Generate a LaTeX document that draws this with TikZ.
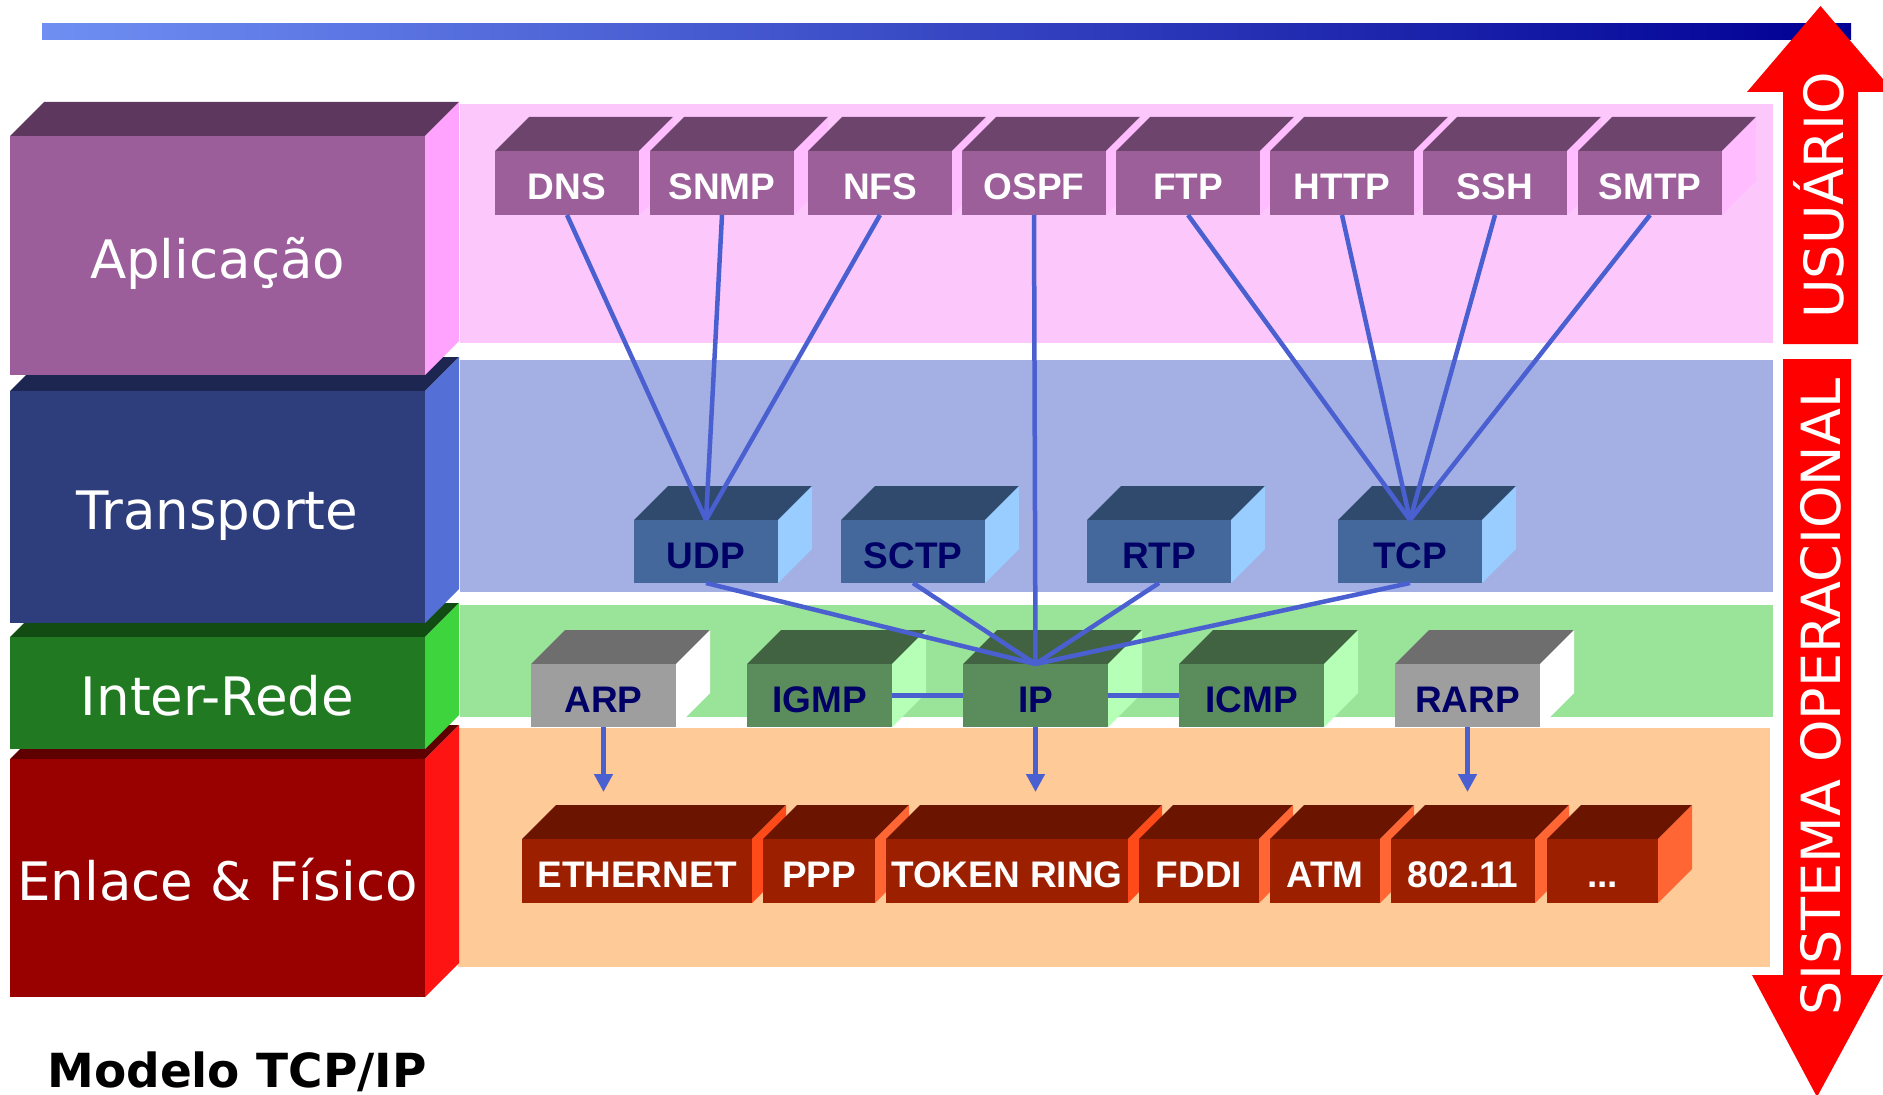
\documentclass[tikz,border=0pt]{standalone}
\usepackage{fontspec}
\setmainfont{DejaVu Sans}
\newfontfamily\tagfont{Liberation Sans}
\usetikzlibrary{arrows.meta,calc}

% panel and block colours
\definecolor{barL}{HTML}{6F8FF3}
\definecolor{barR}{HTML}{000094}
\definecolor{panelApp}{HTML}{FCC8FC}
\definecolor{panelTr}{HTML}{A4AFE3}
\definecolor{panelNet}{HTML}{9AE49A}
\definecolor{panelLnk}{HTML}{FECA98}
\definecolor{wireblue}{HTML}{4A60D0}
\definecolor{navy}{HTML}{000066}

% draws a box as front face (named node) plus top and right faces
% #1 name, #2 colour scheme, #3 left, #4 top, #5 width, #6 height, #7 label
\newcommand\layerbox[7]{%
  \fill[#2top] (#3,#4) -- ++(34,-34) -- ++(#5,0) -- ++(-34,34) -- cycle;
  \fill[#2side] (#3+#5,#4) -- ++(34,-34) -- ++(0,#6) -- ++(-34,34) -- cycle;
  \node[#2front, minimum width={#5*0.02cm}, minimum height={#6*0.02cm}]
    (#1) at (#3+#5/2,#4+#6/2) {#7};
}

\begin{document}
\begin{tikzpicture}[x=0.02cm,y=-0.02cm,
  face/.style={inner sep=0pt, outer sep=0pt, text depth=0pt},
  layer/.style={face, text=white, font=\fontsize{30.16pt}{36pt}\selectfont, text height=26pt},
  tag/.style={face, font=\tagfont\bfseries\fontsize{21.05pt}{25pt}\selectfont, text height=19pt},
  % left layer blocks
  Lapptop/.style={fill={rgb,255:red,94;green,55;blue,94}},
  Lappside/.style={fill={rgb,255:red,255;green,163;blue,255}},
  Lappfront/.style={layer, fill={rgb,255:red,155;green,94;blue,154}},
  Ltrtop/.style={fill={rgb,255:red,29;green,38;blue,81}},
  Ltrside/.style={fill={rgb,255:red,84;green,112;blue,214}},
  Ltrfront/.style={layer, fill={rgb,255:red,46;green,61;blue,124}},
  Lnettop/.style={fill={rgb,255:red,18;green,76;blue,18}},
  Lnetside/.style={fill={rgb,255:red,61;green,212;blue,61}},
  Lnetfront/.style={layer, fill={rgb,255:red,33;green,122;blue,33}},
  Llnktop/.style={fill={rgb,255:red,94;green,0;blue,0}},
  Llnkside/.style={fill={rgb,255:red,255;green,20;blue,20}},
  Llnkfront/.style={layer, fill={rgb,255:red,153;green,0;blue,0}},
  % protocol boxes
  apptop/.style={fill={rgb,255:red,108;green,68;blue,108}},
  appside/.style={fill={rgb,255:red,255;green,189;blue,255}},
  appfront/.style={tag, text=white, fill={rgb,255:red,156;green,95;blue,154}},
  trtop/.style={fill={rgb,255:red,48;green,74;blue,110}},
  trside/.style={fill={rgb,255:red,153;green,204;blue,255}},
  trfront/.style={tag, text=navy, fill={rgb,255:red,68;green,104;blue,155}},
  nettop/.style={fill={rgb,255:red,66;green,99;blue,66}},
  netside/.style={fill={rgb,255:red,182;green,255;blue,182}},
  netfront/.style={tag, text=navy, fill={rgb,255:red,91;green,140;blue,91}},
  graytop/.style={fill={rgb,255:red,110;green,110;blue,110}},
  grayside/.style={fill=white},
  grayfront/.style={tag, text=navy, fill={rgb,255:red,158;green,158;blue,158}},
  lnktop/.style={fill={rgb,255:red,107;green,21;blue,0}},
  lnkside/.style={fill={rgb,255:red,255;green,102;blue,51}},
  lnkfront/.style={tag, text=white, fill={rgb,255:red,156;green,31;blue,0}},
  lnkbtop/.style={lnktop},
  lnkbside/.style={fill={rgb,255:red,255;green,74;blue,26}},
  lnkbfront/.style={lnkfront},
  wire/.style={draw=wireblue, line width=0.09cm},
  down/.style={wire, -{Triangle[width=0.36cm,length=0.36cm]}},
  sidetext/.style={inner sep=0pt, text=white, font=\fontsize{30.73pt}{36pt}\selectfont},
  title/.style={inner sep=0pt, font=\bfseries\fontsize{26.74pt}{32pt}\selectfont}
]
\useasboundingbox (0,0) rectangle (1883,1095);
\clip (0,0) rectangle (1883,1095);

% heading bar
\shade[left color=barL, right color=barR] (42,24) rectangle (1851,40);

% layer panels
\fill[panelApp] (460,104) rectangle (1773,343);
\fill[panelTr]  (460,360) rectangle (1773,592);
\fill[panelNet] (460,605) rectangle (1773,717);
\fill[panelLnk] (458,728) rectangle (1770,967);

% layer blocks, bottom to top
\layerbox{lenl}{Llnk}{10}{759}{415}{238}{Enlace \& Físico}
\layerbox{lnet}{Lnet}{10}{637}{415}{112}{Inter-Rede}
\layerbox{ltr}{Ltr}{10}{391}{415}{232}{Transporte}
\layerbox{lapp}{Lapp}{10}{136}{415}{239}{Aplicação}

% user / operating system arrows
\fill[red] (1783,344) -- (1783,92) -- (1747,92) -- (1820.5,6) -- (1894,92)
  -- (1858,92) -- (1858,344) -- cycle;
\fill[red] (1783,359) -- (1851,359) -- (1851,975) -- (1883,975) -- (1817,1097)
  -- (1752,975) -- (1783,975) -- cycle;
\node[sidetext, rotate=90, anchor=base] (usr) at (1843,195.5) {USUÁRIO};
\node[sidetext, rotate=90, anchor=base] (so) at (1840,697) {SISTEMA OPERACIONAL};

% application protocols
\layerbox{dns}{app}{495}{151}{144}{64}{DNS}
\layerbox{snmp}{app}{650}{151}{144}{64}{SNMP}
\layerbox{nfs}{app}{808}{151}{144}{64}{NFS}
\layerbox{ospf}{app}{962}{151}{144}{64}{OSPF}
\layerbox{ftp}{app}{1116}{151}{144}{64}{FTP}
\layerbox{http}{app}{1270}{151}{144}{64}{HTTP}
\layerbox{ssh}{app}{1423}{151}{144}{64}{SSH}
\layerbox{smtp}{app}{1578}{151}{144}{64}{SMTP}

% transport protocols
\layerbox{udp}{tr}{634}{520}{144}{63}{UDP}
\layerbox{sctp}{tr}{841}{520}{144}{63}{SCTP}
\layerbox{rtp}{tr}{1087}{520}{144}{63}{RTP}
\layerbox{tcp}{tr}{1338}{520}{144}{63}{TCP}

% internet protocols
\layerbox{arp}{gray}{531}{664}{145}{63}{ARP}
\layerbox{igmp}{net}{747}{664}{145}{63}{IGMP}
\layerbox{ip}{net}{963}{664}{145}{63}{IP}
\layerbox{icmp}{net}{1179}{664}{145}{63}{ICMP}
\layerbox{rarp}{gray}{1395}{664}{145}{63}{RARP}

% link technologies
\layerbox{eth}{lnkb}{522}{839}{230}{64}{ETHERNET}
\layerbox{ppp}{lnk}{763}{839}{112}{64}{PPP}
\layerbox{tring}{lnkb}{886}{839}{242}{64}{TOKEN RING}
\layerbox{fddi}{lnk}{1139}{839}{120}{64}{FDDI}
\layerbox{atm}{lnk}{1270}{839}{110}{64}{ATM}
\layerbox{wifi}{lnk}{1391}{839}{144}{64}{802.11}
\layerbox{more}{lnk}{1547}{839}{111}{64}{...}

% connections between layers
\foreach \a in {dns,snmp,nfs} \draw[wire] (\a.south) -- (udp.north);
\foreach \a in {ftp,http,ssh,smtp} \draw[wire] (\a.south) -- (tcp.north);
\draw[wire] (ospf.south) -- (ip.north);
\foreach \a in {udp,sctp,rtp,tcp} \draw[wire] (\a.south) -- (ip.north);
\draw[wire] (igmp.east) -- (ip.west);
\draw[wire] (ip.east) -- (icmp.west);

\coordinate (arpT) at ($(arp.south)+(0,65)$);
\coordinate (ipT) at ($(ip.south)+(0,65)$);
\coordinate (rarpT) at ($(rarp.south)+(0,65)$);
\draw[down] (arp.south) -- (arpT);
\draw[down] (ip.south) -- (ipT);
\draw[down] (rarp.south) -- (rarpT);

\node[title, anchor=base west] (model) at (47,1087) {Modelo TCP/IP};
\end{tikzpicture}
\end{document}
